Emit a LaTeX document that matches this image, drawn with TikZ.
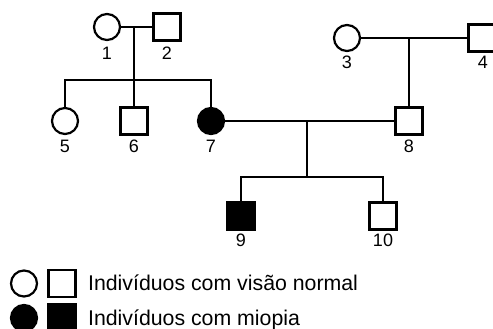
\documentclass[tikz,border=0pt]{standalone}
\usepackage{fontspec}
\setmainfont{Liberation Sans}
\begin{document}
\begin{tikzpicture}[x=1pt,y=-1pt,line width=2.2pt,
  fem/.style={draw,circle,minimum size=26pt,inner sep=0pt,line width=2.2pt},
  mal/.style={draw,rectangle,minimum size=27pt,inner sep=0pt,line width=2.2pt},
  aff/.style={fill=black},
  num/.style={inner sep=0pt,font=\fontsize{18}{18}\selectfont},
  leg/.style={inner sep=0pt,anchor=base west,font=\fontsize{21.3}{22}\selectfont}]
\clip (0,0) rectangle (493,329);
% generation I
\node[fem] (n1) at (107,27) {};
\node[mal] (n2) at (167,27) {};
\node[fem] (n3) at (347,38) {};
\node[mal] (n4) at (482,38) {};
% generation II
\node[fem] (n5) at (65,121) {};
\node[mal] (n6) at (134,121) {};
\node[fem,aff] (n7) at (211,121) {};
\node[mal] (n8) at (409,121) {};
% generation III
\node[mal,aff] (n9) at (241,216) {};
\node[mal] (n10) at (383,216) {};
% labels
\node[num] (l1) at (107,53) {1};
\node[num] (l2) at (167,53) {2};
\node[num] (l3) at (347,62) {3};
\node[num] (l4) at (483,62) {4};
\node[num] (l5) at (65,146) {5};
\node[num] (l6) at (134,146) {6};
\node[num] (l7) at (211,146) {7};
\node[num] (l8) at (409,146) {8};
\node[num] (l9) at (241,240) {9};
\node[num] (l10) at (383,240) {10};
% junctions
\coordinate (m12) at (134,27);
\coordinate (s1) at (134,80);
\coordinate (m34) at (409,38);
\coordinate (m78) at (307,121);
\coordinate (s2) at (307,177);
% connectors
\draw (n1) -- (n2);
\draw (m12) -- (n6.north);
\draw (n5.north) |- (s1) -| (n7.north);
\draw (n3) -- (n4);
\draw (m34) -- (n8.north);
\draw (n7) -- (n8);
\draw (m78) -- (s2);
\draw (n9.north) |- (s2) -| (n10.north);
% legend
\node[fem] (lc1) at (24,283.5) {};
\node[mal] (ls1) at (62,283.5) {};
\node[leg] (lt1) at (87,290) {Indivíduos com visão normal};
\node[fem,aff] (lc2) at (24,318) {};
\node[mal,aff] (ls2) at (62,318) {};
\node[leg] (lt2) at (87,325) {Indivíduos com miopia};
\end{tikzpicture}
\end{document}
